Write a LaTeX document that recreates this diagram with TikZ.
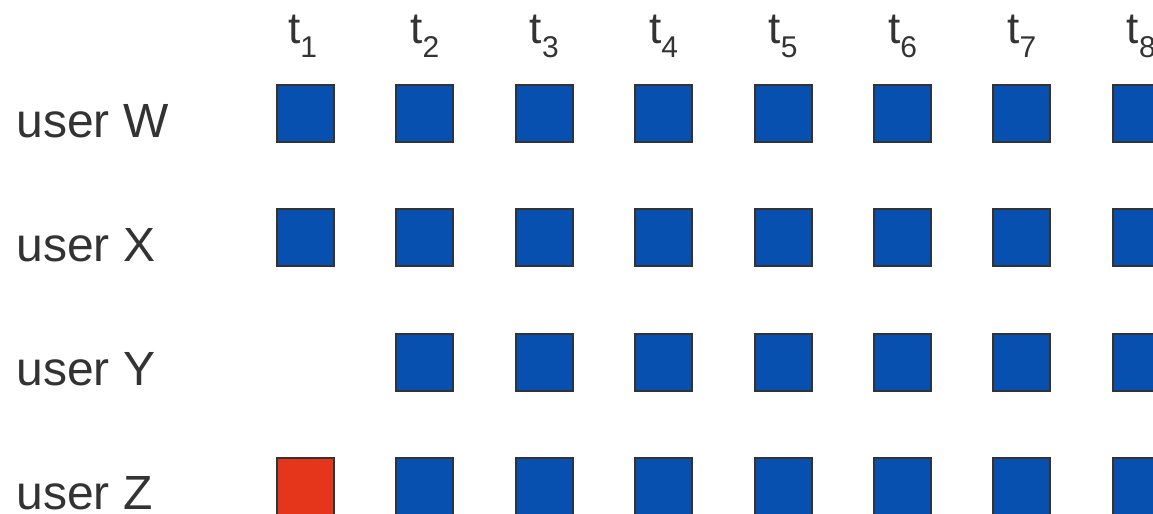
\documentclass[tikz,border=0pt]{standalone}
\usepackage{fontspec}
\setmainfont{Liberation Sans}
\definecolor{inkgray}{HTML}{333333}
\definecolor{cellblue}{HTML}{0750B0}
\definecolor{cellred}{HTML}{E5351A}
\tikzset{
    cell/.style={rectangle, draw=inkgray, line width=1pt, fill=cellblue, minimum size=28.5pt, inner sep=0pt},
    flagged/.style={cell, fill=cellred},
    userlabel/.style={anchor=base west, inner sep=0pt, text=inkgray, font=\fontsize{24}{24}\selectfont},
    timelabel/.style={anchor=base, inner sep=0pt, text=inkgray, font=\fontsize{22}{22}\selectfont}
}
\newcommand{\tsub}[1]{t\raisebox{-7pt}{\fontsize{15}{15}\selectfont #1}}

\begin{document}
\begin{tikzpicture}[x=0.5pt, y=-0.5pt]
        \clip (0,0) rectangle (1153,514);
        % time labels
        \node (t1) [timelabel] at (302.5, 43) {\tsub{1}};
        \node (t2) [timelabel] at (424.9, 43) {\tsub{2}};
        \node (t3) [timelabel] at (544.3, 43) {\tsub{3}};
        \node (t4) [timelabel] at (663.7, 43) {\tsub{4}};
        \node (t5) [timelabel] at (783.1, 43) {\tsub{5}};
        \node (t6) [timelabel] at (902.5, 43) {\tsub{6}};
        \node (t7) [timelabel] at (1021.9, 43) {\tsub{7}};
        \node (t8) [timelabel] at (1141.3, 43) {\tsub{8}};
        % user labels
        \node (uW) [userlabel] at (16, 137.0) {user W};
        \node (uX) [userlabel] at (16, 261.3) {user X};
        \node (uY) [userlabel] at (16, 385.6) {user Y};
        \node (uZ) [userlabel] at (16, 509.9) {user Z};
        % user W
        \node (w1) [cell] at (305.5, 113.5) {};
        \node (w2) [cell] at (424.9, 113.5) {};
        \node (w3) [cell] at (544.3, 113.5) {};
        \node (w4) [cell] at (663.7, 113.5) {};
        \node (w5) [cell] at (783.1, 113.5) {};
        \node (w6) [cell] at (902.5, 113.5) {};
        \node (w7) [cell] at (1021.9, 113.5) {};
        \node (w8) [cell] at (1141.3, 113.5) {};
        % user X
        \node (x1) [cell] at (305.5, 237.8) {};
        \node (x2) [cell] at (424.9, 237.8) {};
        \node (x3) [cell] at (544.3, 237.8) {};
        \node (x4) [cell] at (663.7, 237.8) {};
        \node (x5) [cell] at (783.1, 237.8) {};
        \node (x6) [cell] at (902.5, 237.8) {};
        \node (x7) [cell] at (1021.9, 237.8) {};
        \node (x8) [cell] at (1141.3, 237.8) {};
        % user Y
        \node (y2) [cell] at (424.9, 362.1) {};
        \node (y3) [cell] at (544.3, 362.1) {};
        \node (y4) [cell] at (663.7, 362.1) {};
        \node (y5) [cell] at (783.1, 362.1) {};
        \node (y6) [cell] at (902.5, 362.1) {};
        \node (y7) [cell] at (1021.9, 362.1) {};
        \node (y8) [cell] at (1141.3, 362.1) {};
        % user Z
        \node (z1) [flagged] at (305.5, 486.4) {};
        \node (z2) [cell] at (424.9, 486.4) {};
        \node (z3) [cell] at (544.3, 486.4) {};
        \node (z4) [cell] at (663.7, 486.4) {};
        \node (z5) [cell] at (783.1, 486.4) {};
        \node (z6) [cell] at (902.5, 486.4) {};
        \node (z7) [cell] at (1021.9, 486.4) {};
        \node (z8) [cell] at (1141.3, 486.4) {};
\end{tikzpicture}
\end{document}
